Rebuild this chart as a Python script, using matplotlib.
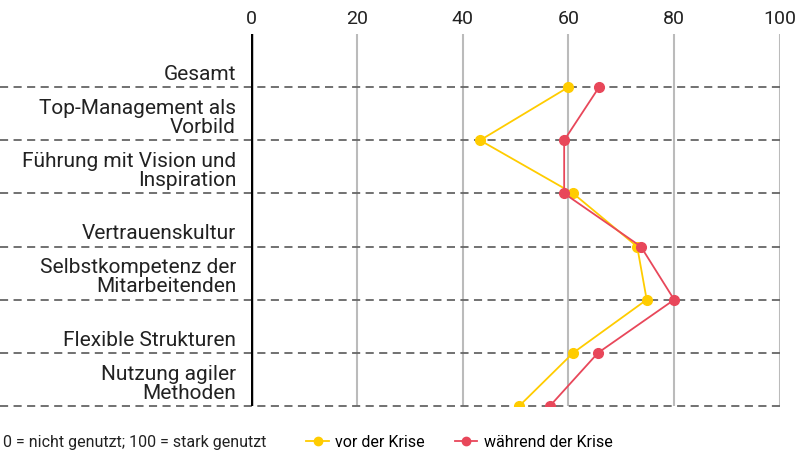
import matplotlib
matplotlib.use("Agg")
import matplotlib.pyplot as plt
import matplotlib.transforms as mtransforms
from matplotlib.lines import Line2D

plt.rcParams['font.family'] = ['Roboto', 'DejaVu Sans']

categories = ['Gesamt', 'Top-Management als\nVorbild', 'Führung mit Vision und\nInspiration',
              'Vertrauenskultur', 'Selbstkompetenz der\nMitarbeitenden', 'Flexible Strukturen',
              'Nutzung agiler\nMethoden']
vor_krise = [60, 43.3, 60.9, 73, 74.8, 60.9, 50.7]
waehrend_krise = [65.8, 59.2, 59.2, 73.7, 80, 65.6, 56.5]
ticks = [0, 20, 40, 60, 80, 100]

yellow = '#FFCC00'
red = '#E8475A'

fig = plt.figure(figsize=(7.95, 4.56), dpi=100)
ax = fig.add_axes([251/795, 1-407/456, (780-251)/795, (407-35)/456])

rows = list(range(len(categories)))

# grid lines
for t in ticks[1:]:
    ax.axvline(t, color='#bbbbbb', lw=1.5, zorder=1)
ax.axvline(0, color='black', lw=2.5, zorder=3)

# dashed row lines, reaching to the left edge of the figure
for r in rows:
    ax.axhline(r, xmin=-251/529, xmax=1, color='#666666', lw=1.3,
               dashes=(4.5, 3), clip_on=False, zorder=2)

ax.plot(vor_krise, rows, color=yellow, lw=1.3, marker='o', ms=7, zorder=4)
ax.plot(waehrend_krise, rows, color=red, lw=1.3, marker='o', ms=7, zorder=5)

# category labels above each line
trans = mtransforms.blended_transform_factory(fig.transFigure, ax.transData)
for r, c in zip(rows, categories):
    ax.text(236/795, r - 0.08, c, transform=trans, ha='right', va='bottom',
            fontsize=15, color='#222222', linespacing=1.0)

ax.set_xlim(0, 100)
ax.set_ylim(len(categories) - 1, -1)
ax.set_yticks([])
ax.xaxis.tick_top()
ax.set_xticks(ticks)
ax.tick_params(axis='x', length=0, pad=5, labelsize=14, labelcolor='#222222')
for s in ax.spines.values():
    s.set_visible(False)

fig.text(3/795, 1-443/456, '0 = nicht genutzt; 100 = stark genutzt', fontsize=11.5,
         va='center', ha='left', color='#222222')
handles = [Line2D([], [], color=yellow, lw=1.3, marker='o', ms=6),
           Line2D([], [], color=red, lw=1.3, marker='o', ms=6)]
fig.legend(handles, ['vor der Krise', 'während der Krise'], ncol=2, frameon=False,
           loc='center left', bbox_to_anchor=(300/795, 1-443/456), fontsize=11.5,
           handlelength=1.4, handletextpad=0.4, columnspacing=1.9, borderaxespad=0)

fig.savefig('out.png', dpi=100)
